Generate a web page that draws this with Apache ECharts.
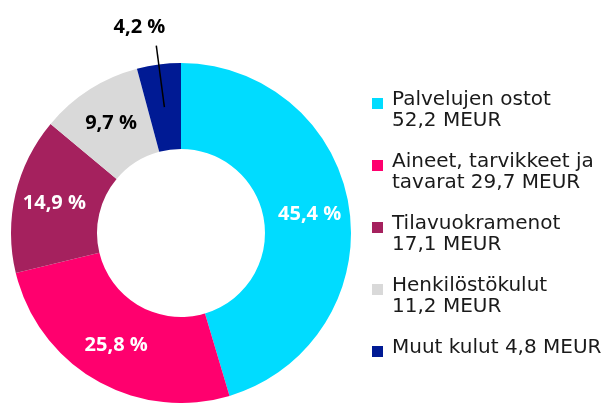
<!DOCTYPE html>
<html>
<head>
<meta charset="utf-8">
<script src="https://cdn.jsdelivr.net/npm/echarts@6/dist/echarts.min.js"></script>
<style>
  html, body { margin: 0; padding: 0; background: #fff; }
  #chart { width: 611px; height: 403px; }
</style>
</head>
<body>
<div id="chart"></div>
<script>
const names = ['Palvelujen ostot', 'Aineet, tarvikkeet ja tavarat', 'Tilavuokramenot', 'Henkilöstökulut', 'Muut kulut'];
const values = [52.2, 29.7, 17.1, 11.2, 4.8];
const legendLines = [
  'Palvelujen ostot\n52,2 MEUR',
  'Aineet, tarvikkeet ja\ntavarat 29,7 MEUR',
  'Tilavuokramenot\n17,1 MEUR',
  'Henkilöstökulut\n11,2 MEUR',
  'Muut kulut 4,8 MEUR\n '
];
const colors = ['#00dcff', '#ff006e', '#a5215e', '#d9d9d9', '#001a94'];
const labelColors = ['#fff', '#fff', '#fff', '#000', '#000'];

const labelFont = "'Open Sans', 'Noto Sans', sans-serif";
const legendFont = "'DejaVu Sans', sans-serif";
const fmtPct = p => p.percent.toFixed(1).replace('.', ',') + ' %';

const chart = echarts.init(document.getElementById('chart'));

chart.setOption({
  animation: false,
  color: colors,
  legend: {
    orient: 'vertical',
    left: 367,
    top: 84,
    itemWidth: 15,
    itemHeight: 42,
    itemGap: 20,
    // square sits at the first text line, extra moveTo points pad the box
    icon: 'path://M0,0M0,42M15,0M0,9h11v11h-11z',
    selectedMode: false,
    data: names,
    formatter: name => legendLines[names.indexOf(name)],
    textStyle: {
      fontFamily: legendFont,
      fontSize: 20,
      lineHeight: 21,
      color: '#1a1a1a'
    }
  },
  series: [
    {
      type: 'pie',
      z: 2,
      center: [181, 233],
      radius: [84, 170],
      startAngle: 90,
      clockwise: true,
      silent: true,
      label: {
        position: 'inside',
        fontFamily: labelFont,
        fontSize: 20,
        fontWeight: 'bold',
        formatter: fmtPct
      },
      labelLine: { show: false },
      data: names.map((n, i) => ({
        name: n,
        value: values[i],
        label: { show: i < 4, color: labelColors[i] }
      }))
    },
    {
      // overlay only for the small slice's outside label and its leader line
      type: 'pie',
      z: 5,
      center: [181, 233],
      radius: [0, 127],
      startAngle: 90,
      clockwise: true,
      silent: true,
      itemStyle: { color: 'transparent' },
      label: { show: false },
      labelLine: { show: false },
      labelLayout: p => (p.dataIndex === 4 ? { dx: 14, dy: -18 } : {}),
      data: names.map((n, i) => ({
        name: n,
        value: values[i],
        itemStyle: { color: 'transparent' },
        label: {
          show: i === 4,
          position: 'outside',
          fontFamily: labelFont,
          fontSize: 20,
          fontWeight: 'bold',
          color: '#000',
          formatter: fmtPct
        },
        labelLine: {
          show: i === 4,
          length: 62,
          length2: 0,
          lineStyle: { color: '#000', width: 1.5 }
        }
      }))
    }
  ]
});
</script>
</body>
</html>
